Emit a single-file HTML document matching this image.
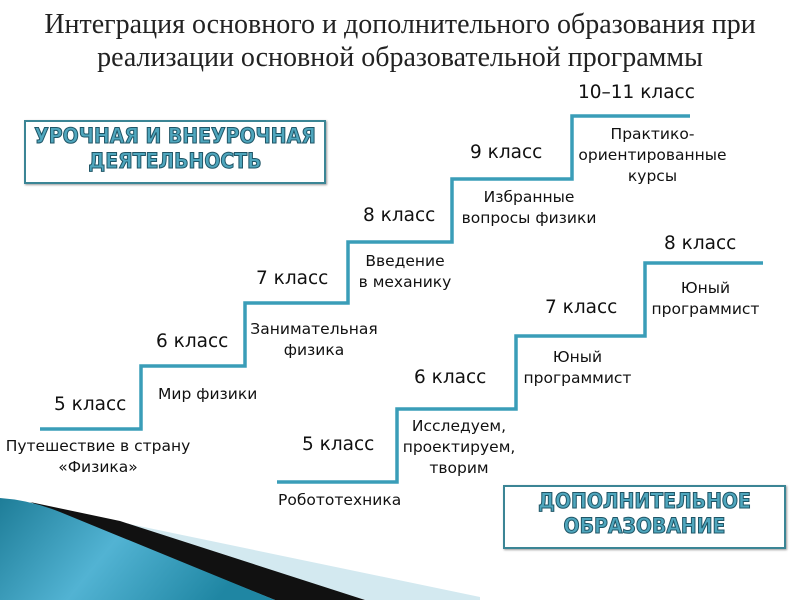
<!DOCTYPE html>
<html><head><meta charset="utf-8"><style>
body{margin:0;width:800px;height:600px;background:#fff;position:relative;overflow:hidden;font-family:"DejaVu Sans","Liberation Sans",sans-serif;color:#111}
.t{position:absolute;white-space:nowrap;text-align:center}
.k{font-size:18.5px}
.d{font-size:15.5px;line-height:21px}
.title{position:absolute;left:0;width:800px;text-align:center;font-family:"Liberation Serif",serif;font-size:28px;line-height:33px;top:8px;color:#222}
.box{position:absolute;border:2px solid #3b8595;box-shadow:1px 1px 2px #999;text-align:center;font-family:"DejaVu Sans Condensed","DejaVu Sans",sans-serif;font-weight:bold;font-size:21px;line-height:25px;color:#4fa6bd;-webkit-text-stroke:1px #1f5566}
</style></head><body>
<svg width="800" height="600" style="position:absolute;left:0;top:0">
<defs><linearGradient id="g" x1="0" y1="0" x2="1" y2="0.3">
<stop offset="0" stop-color="#1e7d98"/><stop offset="0.5" stop-color="#52b3d3"/><stop offset="1" stop-color="#1f86a3"/></linearGradient></defs>
<polygon points="110,520 480,597 480,600 365,600" fill="#d3e9f0"/>
<polygon points="30,502 120,521 365,600 275,600" fill="#111"/>
<path d="M0,498 Q30,500 60,512 L275,600 L0,600 Z" fill="url(#g)"/>
<polyline fill="none" stroke="#3a9db8" stroke-width="3.5" points="40,429 141,429 141,366 245,366 245,303 348,303 348,242 452,242 452,179 572,179 572,116 690,116"/>
<polyline fill="none" stroke="#3a9db8" stroke-width="3.5" points="277,482 397,482 397,409 516,409 516,336 645,336 645,263 763,263"/>
</svg>
<div class="title">Интеграция основного и дополнительного образования при<br>реализации основной образовательной программы</div>
<div class="box" style="left:24px;top:120px;width:298px;height:58px;padding-top:2px">УРОЧНАЯ И ВНЕУРОЧНАЯ<br>ДЕЯТЕЛЬНОСТЬ</div>
<div class="box" style="left:503px;top:485px;width:279px;height:58px;padding-top:2px">ДОПОЛНИТЕЛЬНОЕ<br>ОБРАЗОВАНИЕ</div>
<div class="t k" style="left:54px;top:394px">5 класс</div>
<div class="t k" style="left:156px;top:331px">6 класс</div>
<div class="t k" style="left:256px;top:268px">7 класс</div>
<div class="t k" style="left:363px;top:205px">8 класс</div>
<div class="t k" style="left:470px;top:142px">9 класс</div>
<div class="t k" style="left:578px;top:82px">10–11 класс</div>
<div class="t d" style="left:3px;top:436px;width:190px">Путешествие в страну<br>«Физика»</div>
<div class="t d" style="left:158px;top:384px">Мир физики</div>
<div class="t d" style="left:248px;top:319px;width:132px">Занимательная<br>физика</div>
<div class="t d" style="left:355px;top:251px;width:100px">Введение<br>в механику</div>
<div class="t d" style="left:455px;top:187px;width:148px">Избранные<br>вопросы физики</div>
<div class="t d" style="left:570px;top:124px;width:165px">Практико-<br>ориентированные<br>курсы</div>
<div class="t k" style="left:302px;top:434px">5 класс</div>
<div class="t k" style="left:414px;top:367px">6 класс</div>
<div class="t k" style="left:545px;top:297px">7 класс</div>
<div class="t k" style="left:664px;top:233px">8 класс</div>
<div class="t d" style="left:278px;top:490px">Робототехника</div>
<div class="t d" style="left:396px;top:416px;width:126px">Исследуем,<br>проектируем,<br>творим</div>
<div class="t d" style="left:517px;top:347px;width:121px">Юный<br>программист</div>
<div class="t d" style="left:645px;top:278px;width:121px">Юный<br>программист</div>
</body></html>
